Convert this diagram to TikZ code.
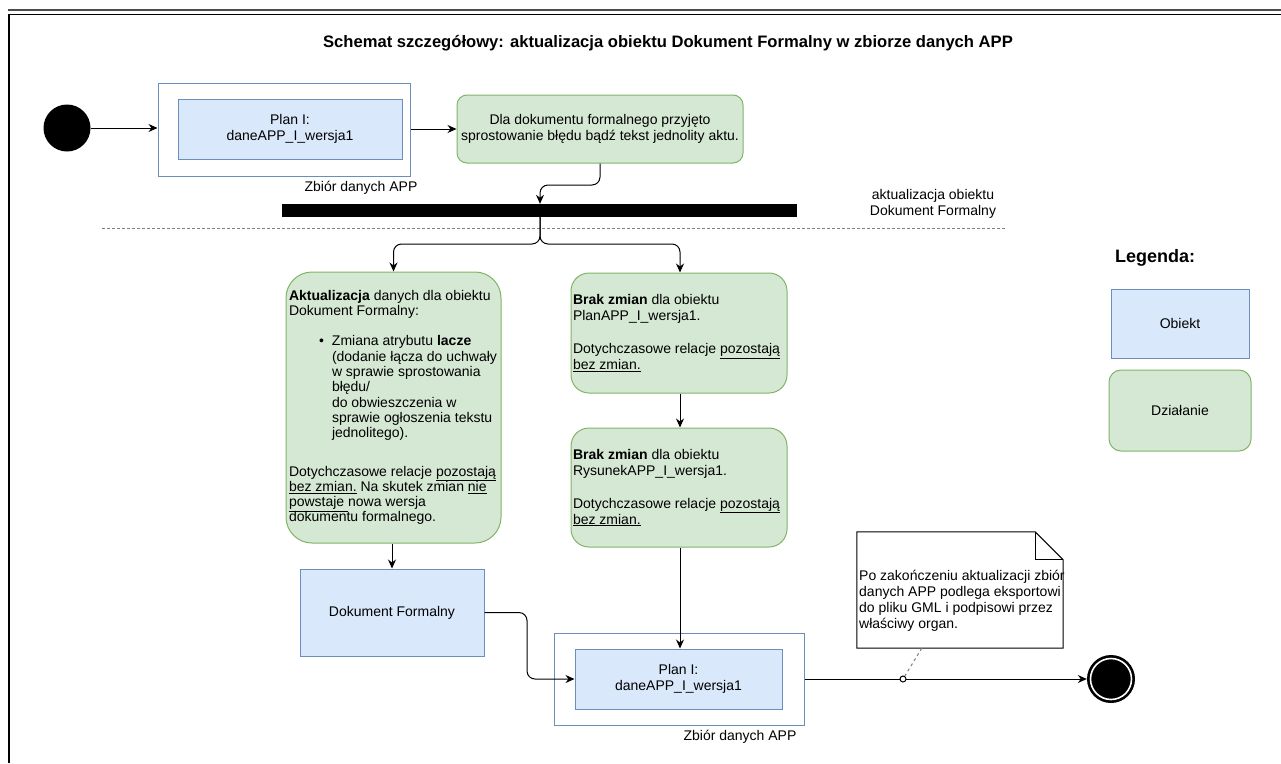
\documentclass[tikz,border=0pt]{standalone}
\usepackage{fontspec}
\setmainfont{Liberation Sans}
\usetikzlibrary{arrows.meta,calc}
\definecolor{objfill}{HTML}{DAE8FC}
\definecolor{objdraw}{HTML}{6C8EBF}
\definecolor{actfill}{HTML}{D5E8D4}
\definecolor{actdraw}{HTML}{82B366}
\definecolor{dashgray}{HTML}{808080}
\tikzset{
  txt/.style={font=\fontsize{14}{16}\selectfont, inner sep=0pt, align=center},
  obj/.style={txt, draw=objdraw, fill=objfill, line width=1pt},
  grp/.style={draw=objdraw, fill=white, line width=1pt, inner sep=0pt},
  act/.style={txt, draw=actdraw, fill=actfill, rounded corners=10pt, line width=1pt},
  conn/.style={-{Stealth[length=9pt,width=8pt]}, line width=1pt, rounded corners=8pt},
  plain/.style={line width=1pt},
}
\begin{document}
\begin{tikzpicture}[x=1pt,y=-1pt]
\useasboundingbox (0,0) rectangle (1281,763);
% frame
\draw[line width=2pt, black!70] (8,10) -- (1281,10);
\draw[line width=1pt] (9,14) -- (1281,14);
\draw[line width=1.5pt] (9,14) -- (9,763);

\node[font=\bfseries\fontsize{16.6}{19}\selectfont, inner sep=0pt] (title) at (668,43) {Schemat szczegółowy: aktualizacja obiektu Dokument Formalny w zbiorze danych APP};

% start
\node[circle, fill=black, minimum size=47pt, inner sep=0pt] (start) at (67,128) {};

% group 1
\node[grp, minimum width=252pt, minimum height=93pt] (grp1) at (284,129.5) {};
\node[obj, minimum width=224pt, minimum height=60pt] (in1) at (290,129) {Plan I:\\daneAPP\_I\_wersja1};
\node[txt] (lab1) at (361,188) {Zbiór danych APP};

% first action
\node[act, minimum width=286pt, minimum height=68pt] (act1) at (600,129) {Dla dokumentu formalnego przyjęto\\sprostowanie błędu bądź tekst jednolity aktu.};

\draw[conn] (start.east) -- (start.east -| grp1.west);
\draw[conn] (grp1.east |- act1) -- (act1.west);

% bar
\node[fill=black, minimum width=515pt, minimum height=13pt, inner sep=0pt] (bar) at (539.5,210.5) {};
\node[txt] (barlab) at (933,204) {aktualizacja obiektu\\Dokument Formalny};
\coordinate (dl) at (102,228);
\coordinate (dr) at (1005,228);
\draw[dashgray, line width=1pt, dash pattern=on 3pt off 2pt] (dl) -- (dr);

\coordinate (j1) at (540,185);
\draw[conn] (act1.south) |- (j1) -- (j1 |- bar.north);

% big action
\node[act, rounded corners=26pt, minimum width=215pt, minimum height=271pt, align=left, font=\fontsize{14}{15.3}\selectfont] (act2) at (393.5,407.5) {\makebox[209pt][l]{\textbf{Aktualizacja} danych dla obiektu}\\
Dokument Formalny:\\[15pt]
\hspace*{30pt}\makebox[13pt][l]{•}Zmiana atrybutu \textbf{lacze}\\
\hspace*{43pt}(dodanie łącza do uchwały\\
\hspace*{43pt}w sprawie sprostowania\\
\hspace*{43pt}błędu/\\
\hspace*{43pt}do obwieszczenia w\\
\hspace*{43pt}sprawie ogłoszenia tekstu\\
\hspace*{43pt}jednolitego).\\[23pt]
Dotychczasowe relacje \underline{pozostają}\\
\underline{bez zmian.} Na skutek zmian \underline{nie}\\
\underline{powstaje }nowa wersja\\
dokumentu formalnego.};

\node[act, rounded corners=18pt, minimum width=216pt, minimum height=120pt, align=left] (act3) at (679,333) {\makebox[212pt][l]{\textbf{Brak zmian} dla obiektu}\\
PlanAPP\_I\_wersja1.\\[17pt]
Dotychczasowe relacje \underline{pozostają}\\
\underline{bez zmian.}};

\node[act, rounded corners=18pt, minimum width=216pt, minimum height=119pt, align=left] (act4) at (679,487.5) {\makebox[212pt][l]{\textbf{Brak zmian} dla obiektu}\\
RysunekAPP\_I\_wersja1.\\[17pt]
Dotychczasowe relacje \underline{pozostają}\\
\underline{bez zmian.}};

\coordinate (j2) at (540,244);
\draw[conn] (bar.south -| j2) -- (j2) -| (act2.north);
\draw[conn] (bar.south -| j2) -- (j2) -| (act3.north -| 680,0);
\draw[conn] (act3.south -| 680,0) -- (act4.north -| 680,0);

% Dokument Formalny
\node[obj, minimum width=184pt, minimum height=87pt] (df) at (392,612.5) {Dokument Formalny};
\draw[conn] (act2.south -| df) -- (df.north);

% group 2
\node[grp, minimum width=250pt, minimum height=92pt] (grp2) at (679,679) {};
\node[obj, minimum width=207pt, minimum height=60pt] (in2) at (678.5,679) {Plan I:\\daneAPP\_I\_wersja1};
\node[txt] (lab2) at (740,737) {Zbiór danych APP};

\coordinate (j3) at (527,640);
\draw[conn] (df.east) -- (df.east -| j3) -- (j3 |- in2.west) -- (in2.west);
\draw[conn] (act4.south -| 680,0) -- (in2.north -| 680,0);

% end
\node[circle, fill=black, minimum size=48pt, inner sep=0pt] (end) at (1111,679) {};
\draw[white, line width=1.6pt] (end) circle[radius=20.5pt];
\draw[conn] (grp2.east) -- (end.west);

% note
\node[minimum width=206pt, minimum height=116pt, inner sep=0pt] (note) at (960,590) {};
\draw[line width=1pt, fill=white] (note.north west) -- ($(note.north east)+(-28,0)$) -- ($(note.north east)+(0,28)$) -- (note.south east) -- (note.south west) -- cycle;
\draw[line width=1pt] ($(note.north east)+(-28,0)$) -- ($(note.north east)+(-28,28)$) -- ($(note.north east)+(0,28)$);
\node[txt, align=left, anchor=west] (notetext) at (859,600.5) {Po zakończeniu aktualizacji zbiór\\danych APP podlega eksportowi\\do pliku GML i podpisowi przez\\właściwy organ.};
\node[circle, draw, fill=white, line width=1pt, inner sep=0pt, minimum size=6pt] (dot) at (903,679) {};
\coordinate (nb) at ($(note.south west)+(65,0)$);
\draw[dashgray, line width=1pt, dash pattern=on 3pt off 3pt] (nb) -- (dot);

% legend
\node[font=\bfseries\fontsize{18}{20}\selectfont, inner sep=0pt] (leg) at (1155,258) {Legenda:};
\node[obj, minimum width=138pt, minimum height=69pt] (legobj) at (1180,323.5) {Obiekt};
\node[act, rounded corners=12pt, minimum width=142pt, minimum height=81pt] (legact) at (1180,410.5) {Działanie};
\end{tikzpicture}
\end{document}
